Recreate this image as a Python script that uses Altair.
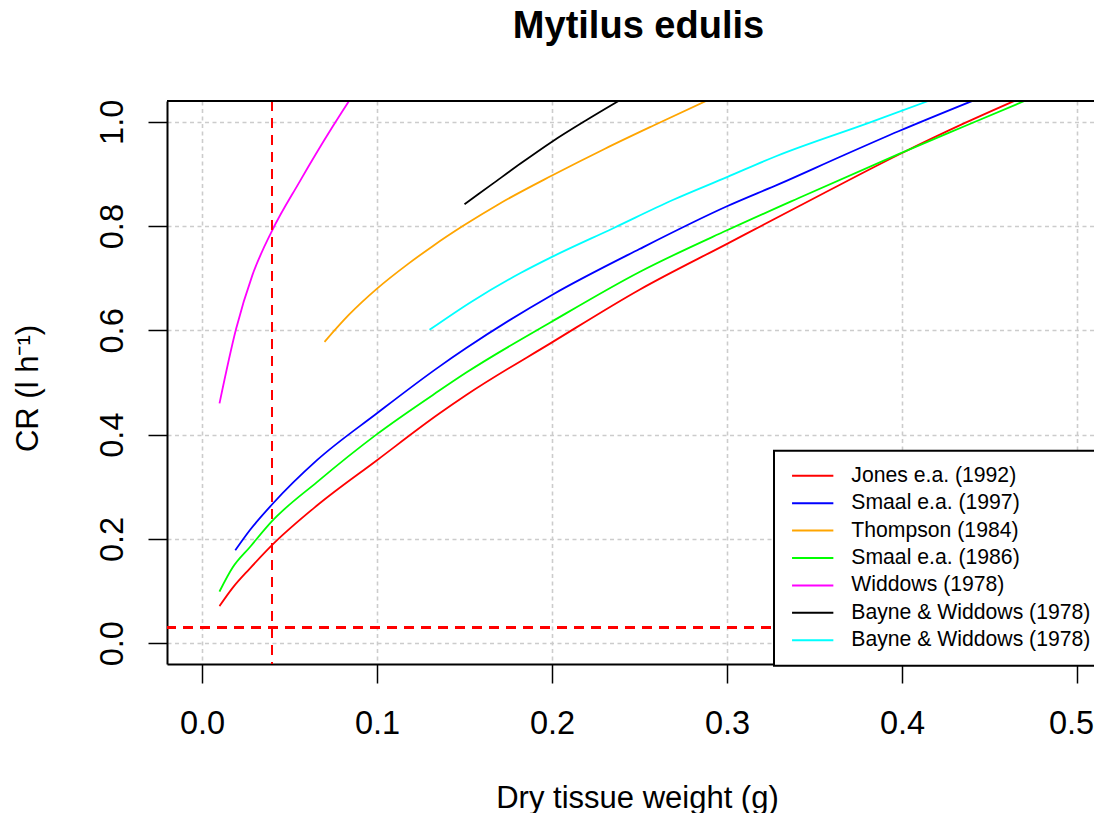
import altair as alt
import pandas as pd

# curve keys; the two Bayne & Widdows curves share one printed label
series = [
    "Jones e.a. (1992)",
    "Smaal e.a. (1997)",
    "Thompson (1984)",
    "Smaal e.a. (1986)",
    "Widdows (1978)",
    "Bayne & Widdows (1978) #1",
    "Bayne & Widdows (1978) #2",
]
colours = ["#ff0000", "#0000ff", "#ffa500", "#00ff00", "#ff00ff", "#000000", "#00ffff"]

# dry tissue weight (g) and clearance rate (l/h)
jones_w = [0.01, 0.0175, 0.0273, 0.04, 0.0657, 0.1, 0.1354, 0.151, 0.2, 0.25, 0.3, 0.341, 0.398, 0.436, 0.464]
jones_cr = [0.071, 0.106, 0.143, 0.188, 0.264, 0.351, 0.440, 0.476, 0.577, 0.678, 0.766, 0.838, 0.937, 0.998, 1.04]

smaal97_w = [0.019, 0.0273, 0.04, 0.0657, 0.1, 0.1354, 0.151, 0.2, 0.25, 0.3, 0.33, 0.366, 0.398, 0.44]
smaal97_cr = [0.178, 0.2165, 0.266, 0.351, 0.441, 0.530, 0.566, 0.668, 0.756, 0.838, 0.881, 0.935, 0.982, 1.04]

thompson_w = [0.07, 0.084, 0.1, 0.118, 0.132, 0.149, 0.17, 0.2, 0.23, 0.258, 0.288]
thompson_cr = [0.578, 0.63, 0.68, 0.728, 0.762, 0.80, 0.843, 0.897, 0.948, 0.993, 1.04]

smaal86_w = [0.01, 0.0175, 0.0273, 0.04, 0.0657, 0.1, 0.1354, 0.151, 0.2, 0.25, 0.3, 0.341, 0.398, 0.436, 0.47]
smaal86_cr = [0.099, 0.145, 0.184, 0.234, 0.309, 0.401, 0.484, 0.519, 0.617, 0.712, 0.792, 0.854, 0.938, 0.992, 1.04]

widdows_w = [0.01, 0.0195, 0.0288, 0.04, 0.0554, 0.0745, 0.084]
widdows_cr = [0.46, 0.603, 0.706, 0.791, 0.883, 0.99, 1.04]

bayne1_w = [0.15, 0.166, 0.182, 0.2, 0.22, 0.238]
bayne1_cr = [0.842, 0.881, 0.92, 0.962, 1.004, 1.04]

bayne2_w = [0.13, 0.154, 0.182, 0.2, 0.235, 0.269, 0.3, 0.328, 0.381, 0.415]
bayne2_cr = [0.601, 0.655, 0.71, 0.741, 0.796, 0.85, 0.894, 0.934, 0.998, 1.04]

x_ticks = [0.0, 0.1, 0.2, 0.3, 0.4, 0.5]
y_ticks = [0.0, 0.2, 0.4, 0.6, 0.8, 1.0]
x_domain = [-0.02, 0.5097]
y_domain = [-0.04, 1.04]
ref_w = 0.04
ref_cr = 0.03

FONT = "Liberation Sans"
NBSP = "\u00a0" * 10  # invisible tail so the legend box runs past the page edge

curves = [
    (jones_w, jones_cr), (smaal97_w, smaal97_cr), (thompson_w, thompson_cr),
    (smaal86_w, smaal86_cr), (widdows_w, widdows_cr), (bayne1_w, bayne1_cr),
    (bayne2_w, bayne2_cr),
]
rows = []
for name, (ws, crs) in zip(series, curves):
    for w, cr in zip(ws, crs):
        rows.append({"series": name, "w": w, "cr": cr})
df = pd.DataFrame(rows)

x_enc = alt.X("w:Q", scale=alt.Scale(domain=x_domain, nice=False, zero=False),
              axis=alt.Axis(values=x_ticks, format=".1f", title="Dry tissue weight (g)",
                            tickSize=19, tickWidth=1.5, tickColor="black",
                            domainColor="black", domainWidth=2,
                            labelFont=FONT, labelFontSize=32.5, labelColor="black",
                            labelBaseline="alphabetic", labelPadding=50, labelFlush=False,
                            labelOverlap=False,
                            # nudge the last label so it stays inside the page
                            labelOffset={"expr": "datum.value > 0.45 ? -6 : 0"},
                            gridColor="#cccccc", gridDash=[4, 3.5], gridWidth=1.6,
                            titleFont=FONT, titleFontSize=31, titleFontWeight="normal",
                            titleColor="black", titleX=470, titleY=143,
                            titleAlign="center", titleBaseline="alphabetic"))
y_enc = alt.Y("cr:Q", scale=alt.Scale(domain=y_domain, nice=False, zero=False),
              axis=alt.Axis(values=y_ticks, format=".1f", title="CR (l h⁻¹)",
                            tickSize=19, tickWidth=1.5, tickColor="black",
                            domainColor="black", domainWidth=2,
                            labelFont=FONT, labelFontSize=32.5, labelColor="black",
                            labelAngle=270, labelAlign="center", labelBaseline="alphabetic",
                            labelPadding=26, labelFlush=False, labelOverlap=False,
                            gridColor="#cccccc", gridDash=[4, 3.5], gridWidth=1.6,
                            titleFont=FONT, titleFontSize=31, titleFontWeight="normal",
                            titleColor="black", titleAngle=270, titleX=-130, titleY=287,
                            titleAlign="center", titleBaseline="alphabetic"))

lines = alt.Chart(df).mark_line(strokeWidth=1.8, clip=True, interpolate="monotone").encode(
    x=x_enc,
    y=y_enc,
    color=alt.Color("series:N", scale=alt.Scale(domain=series, range=colours),
                    legend=alt.Legend(orient="none", legendX=607, legendY=349.7, title=None,
                                      padding=14.5, fillColor="white", strokeColor="black",
                                      symbolType="M-2.5,0H2.5", symbolSize=273,
                                      symbolStrokeWidth=2, symbolOffset=13.6,
                                      labelOffset=28.0, rowPadding=5.4,
                                      labelFont=FONT, labelFontSize=21.2, labelColor="black",
                                      labelLimit=600,
                                      labelExpr="split(datum.label, ' #')[0] + '" + NBSP + "'")),
)

top_rule = alt.Chart(df).mark_rule(color="black", strokeWidth=2).encode(y=alt.datum(y_domain[1]))
h_ref = alt.Chart(df).mark_rule(color="#ff0000", strokeWidth=2, strokeDash=[10, 7]).encode(
    y=alt.datum(ref_cr))
v_ref = alt.Chart(df).mark_rule(color="#ff0000", strokeWidth=2, strokeDash=[10, 7]).encode(
    x=alt.datum(ref_w))

chart = alt.layer(lines, h_ref, v_ref, top_rule).properties(
    width=927,
    height=563,
    autosize=alt.AutoSizeParams(type="none"),
    padding={"left": 159, "top": 93, "right": 0, "bottom": 149},
    title=alt.TitleParams("Mytilus edulis", font=FONT, fontSize=38, fontWeight="bold",
                          color="black", anchor="middle", frame="group",
                          offset=53, dx=8),
).configure_view(strokeWidth=0).configure_legend(strokeWidth=2)

chart.save("out.html", embed_options={"renderer": "svg", "actions": False})
